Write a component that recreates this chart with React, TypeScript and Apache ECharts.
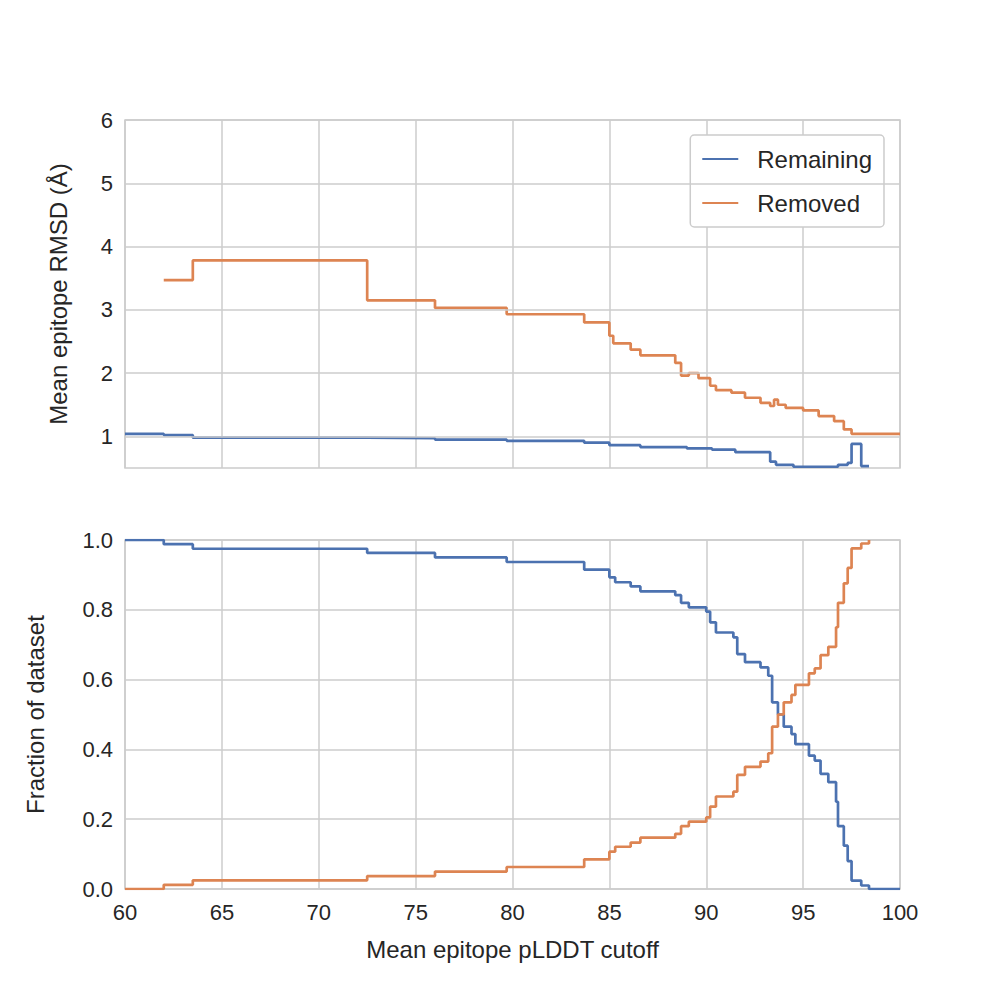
import React, { useEffect, useRef } from "react";
import * as echarts from "echarts";

// step points: [cutoff where value changes, new value]
const rmsdRemaining: [number, number][] = [
  [60, 1.04], [62, 1.02], [63.5, 0.98], [72.5, 0.97], [76, 0.95], [79.7, 0.93], [83.7, 0.9],
  [85, 0.86], [86.6, 0.83], [89, 0.81], [90.3, 0.79], [91.5, 0.75], [93.3, 0.6], [93.6, 0.55],
  [94.5, 0.52], [96.8, 0.55], [97.3, 0.58], [97.5, 0.88], [98.0, 0.53], [98.4, 0.53],
];
const rmsdRemoved: [number, number][] = [
  [62, 3.47], [63.5, 3.78], [72.5, 3.15], [76, 3.03], [79.7, 2.93], [83.7, 2.8], [85, 2.59],
  [85.2, 2.47], [86.1, 2.37], [86.6, 2.28], [88.4, 2.16], [88.7, 1.96], [89.1, 2.0], [89.6, 1.92],
  [90.2, 1.8], [90.5, 1.73], [91.3, 1.69], [92, 1.61], [92.8, 1.53], [93.3, 1.48], [93.5, 1.58],
  [93.7, 1.5], [94.1, 1.45], [95, 1.41], [95.8, 1.32], [96.6, 1.24], [97.1, 1.11], [97.5, 1.04], [100, 1.04],
];
const fracRemaining: [number, number][] = [
  [60, 1.0], [62, 0.988], [63.5, 0.975], [72.5, 0.963], [76, 0.95], [79.7, 0.937], [83.7, 0.915],
  [85, 0.893], [85.3, 0.879], [86.1, 0.867], [86.6, 0.853], [88.4, 0.842], [88.7, 0.82], [89.1, 0.807],
  [90, 0.795], [90.2, 0.764], [90.5, 0.735], [91.4, 0.721], [91.6, 0.673], [92, 0.65], [92.8, 0.635],
  [93.2, 0.611], [93.4, 0.535], [93.7, 0.5], [94, 0.465], [94.4, 0.444], [94.6, 0.415], [95.3, 0.382],
  [95.6, 0.368], [95.9, 0.33], [96.3, 0.306], [96.7, 0.25], [96.8, 0.18], [97.1, 0.124], [97.3, 0.08],
  [97.5, 0.024], [98.0, 0.01], [98.4, 0.0], [100, 0.0],
];
const fracRemoved: [number, number][] = [
  [60, 0.0], [62, 0.012], [63.5, 0.025], [72.5, 0.037], [76, 0.05], [79.7, 0.063], [83.7, 0.085],
  [85, 0.107], [85.3, 0.121], [86.1, 0.133], [86.6, 0.147], [88.4, 0.158], [88.7, 0.18], [89.1, 0.193],
  [90, 0.205], [90.2, 0.236], [90.5, 0.265], [91.4, 0.279], [91.6, 0.327], [92, 0.35], [92.8, 0.365],
  [93.2, 0.389], [93.4, 0.465], [93.7, 0.5], [94, 0.535], [94.4, 0.556], [94.6, 0.585], [95.3, 0.618],
  [95.6, 0.632], [95.9, 0.67], [96.3, 0.694], [96.7, 0.75], [96.8, 0.82], [97.1, 0.876], [97.3, 0.92],
  [97.5, 0.976], [98.0, 0.99], [98.4, 1.0],
];
const rmsdTicks = [1, 2, 3, 4, 5, 6];

const BLUE = "#4c72b0";
const ORANGE = "#dd8452";
const GRID = "#cccccc";
const FONT = "Liberation Sans";
const TXT = "#262626";

const App: React.FC = () => {
  const ref = useRef<HTMLDivElement>(null);

  useEffect(() => {
    if (!ref.current) return;
    const chart = echarts.init(ref.current, null, { renderer: "svg" });
    const xAxisBase = {
      type: "value", min: 60, max: 100, interval: 5,
      axisLine: { show: false }, axisTick: { show: false },
      splitLine: { lineStyle: { color: GRID, width: 1.5 } },
    };
    const border = { show: true, borderColor: GRID, borderWidth: 1.5 };
    const line = (name: string, color: string, idx: number, data: [number, number][]) => ({
      name, type: "line", step: "end", showSymbol: false, xAxisIndex: idx, yAxisIndex: idx,
      data, lineStyle: { color, width: 2.7 }, itemStyle: { color },
    });
    chart.setOption({
      animation: false,
      textStyle: { fontFamily: FONT },
      grid: [
        { left: 125, width: 775, top: 120, height: 348, ...border },
        { left: 125, width: 775, top: 540, height: 349, ...border },
      ],
      legend: {
        data: ["Remaining", "Removed"], top: 135, right: 116, orient: "vertical",
        itemWidth: 36, itemHeight: 2, itemGap: 20, padding: [12, 12, 12, 12],
        borderColor: GRID, borderWidth: 1.5, borderRadius: 4, backgroundColor: "#fff",
        textStyle: { fontSize: 24, color: TXT, fontFamily: FONT, padding: [0, 0, 0, 14] },
        icon: "rect",
      },
      xAxis: [
        { ...xAxisBase, gridIndex: 0, axisLabel: { show: false } },
        {
          ...xAxisBase, gridIndex: 1,
          axisLabel: { fontSize: 22, color: TXT, margin: 12 },
          name: "Mean epitope pLDDT cutoff", nameLocation: "middle", nameGap: 48,
          nameTextStyle: { fontSize: 24, color: TXT },
        },
      ],
      yAxis: [
        {
          type: "value", gridIndex: 0, min: 0.5, max: 6,
          axisLine: { show: false }, axisTick: { show: false }, splitLine: { show: false },
          axisLabel: { fontSize: 22, color: TXT, margin: 12, customValues: rmsdTicks },
          name: "Mean epitope RMSD (Å)", nameLocation: "middle", nameGap: 55,
          nameTextStyle: { fontSize: 24, color: TXT },
        },
        {
          type: "value", gridIndex: 1, min: 0, max: 1, interval: 0.2,
          axisLine: { show: false }, axisTick: { show: false },
          splitLine: { lineStyle: { color: GRID, width: 1.5 } },
          axisLabel: { fontSize: 22, color: TXT, margin: 12, formatter: (v: number) => v.toFixed(1) },
          name: "Fraction of dataset", nameLocation: "middle", nameGap: 78,
          nameTextStyle: { fontSize: 24, color: TXT },
        },
      ],
      series: [
        {
          type: "line", xAxisIndex: 0, yAxisIndex: 0, data: [], silent: true,
          markLine: {
            symbol: "none", label: { show: false }, silent: true,
            lineStyle: { color: GRID, width: 1.5, type: "solid" },
            data: rmsdTicks.map((t) => ({ yAxis: t })),
          },
        },
        line("Remaining", BLUE, 0, rmsdRemaining),
        line("Removed", ORANGE, 0, rmsdRemoved),
        line("Remaining", BLUE, 1, fracRemaining),
        line("Removed", ORANGE, 1, fracRemoved),
      ],
    });
    return () => chart.dispose();
  }, []);

  return <div ref={ref} style={{ width: 1000, height: 1000, margin: -8 }} />;
};

export default App;
